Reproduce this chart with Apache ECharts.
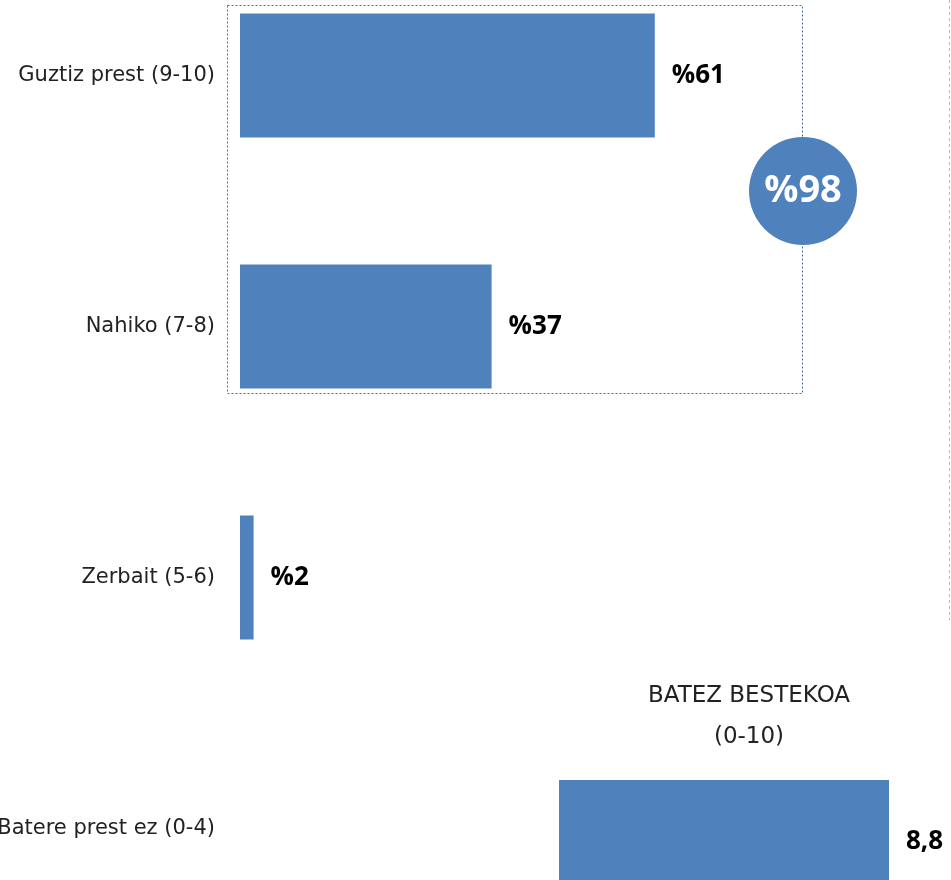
<!DOCTYPE html>
<html>
<head>
<meta charset="utf-8">
<script src="https://cdn.jsdelivr.net/npm/echarts@6/dist/echarts.min.js"></script>
<style>
  html, body { margin: 0; padding: 0; background: #fff; overflow: hidden; }
  #chart { width: 951px; height: 880px; }
</style>
</head>
<body>
<div id="chart"></div>
<script>
// prestutasun maila (%)
var categories = ['Guztiz prest (9-10)', 'Nahiko (7-8)', 'Zerbait (5-6)', 'Batere prest ez (0-4)'];
var values = [61, 37, 2, 0];
// batez bestekoa (0-10)
var avgCategories = ['BATEZ BESTEKOA (0-10)'];
var avgValues = [8.8];
// goiko bi mailen batura
var topTotal = values[0] + values[1];

var blue = '#4F81BD';
var font = 'Open Sans';
var textFont = 'DejaVu Sans';

var myChart = echarts.init(document.getElementById('chart'));

var option = {
    backgroundColor: '#fff',
    animation: false,
    grid: [
        { left: 240, top: -50, width: 680, height: 1004, containLabel: false, outerBoundsMode: 'none' },
        { left: 559, top: 780, width: 375, height: 124, containLabel: false, outerBoundsMode: 'none' }
    ],
    xAxis: [
        { gridIndex: 0, type: 'value', min: 0, max: 100, show: false },
        { gridIndex: 1, type: 'value', min: 0, max: 10, show: false }
    ],
    yAxis: [
        {
            gridIndex: 0, type: 'category', data: categories, inverse: true,
            axisLine: { show: false }, axisTick: { show: false }, splitLine: { show: false },
            axisLabel: { margin: 25, fontSize: 21, color: '#222', fontFamily: textFont }
        },
        { gridIndex: 1, type: 'category', data: avgCategories, show: false }
    ],
    series: [
        {
            type: 'bar', xAxisIndex: 0, yAxisIndex: 0, data: values, barWidth: 124,
            itemStyle: { color: blue },
            label: {
                show: true, position: 'right', distance: 17,
                fontSize: 26, fontWeight: 'bold', color: '#000', fontFamily: font,
                formatter: function (p) { return p.value ? '%' + p.value : ''; }
            }
        },
        {
            type: 'bar', xAxisIndex: 1, yAxisIndex: 1, data: avgValues, barWidth: 124,
            itemStyle: { color: blue },
            label: {
                show: true, position: 'right', distance: 17,
                fontSize: 26, fontWeight: 'bold', color: '#000', fontFamily: font,
                formatter: function (p) { return p.value.toFixed(1).replace('.', ','); }
            }
        }
    ],
    graphic: [
        {
            type: 'rect', shape: { x: 227.5, y: 5.5, width: 575, height: 388 }, silent: true,
            style: { fill: 'none', stroke: '#4a6c9e', lineWidth: 1, lineDash: [2, 2] }
        },
        {
            type: 'line', shape: { x1: 949.5, y1: 0, x2: 949.5, y2: 620 }, silent: true,
            style: { stroke: '#a9bcd6', lineWidth: 1, lineDash: [3, 3] }
        },
        {
            type: 'circle', shape: { cx: 803, cy: 191, r: 54 }, silent: true,
            style: { fill: blue },
            textContent: {
                style: { text: '%' + topTotal, fill: '#fff', fontSize: 38, fontWeight: 'bold', fontFamily: font }
            },
            textConfig: { position: 'inside' }
        },
        {
            type: 'text', x: 749, y: 717, silent: true,
            style: {
                text: 'BATEZ BESTEKOA\n(0-10)', align: 'center', verticalAlign: 'middle',
                fontSize: 23, lineHeight: 41, fill: '#222', fontFamily: textFont
            }
        }
    ]
};

myChart.setOption(option);
</script>
</body>
</html>
